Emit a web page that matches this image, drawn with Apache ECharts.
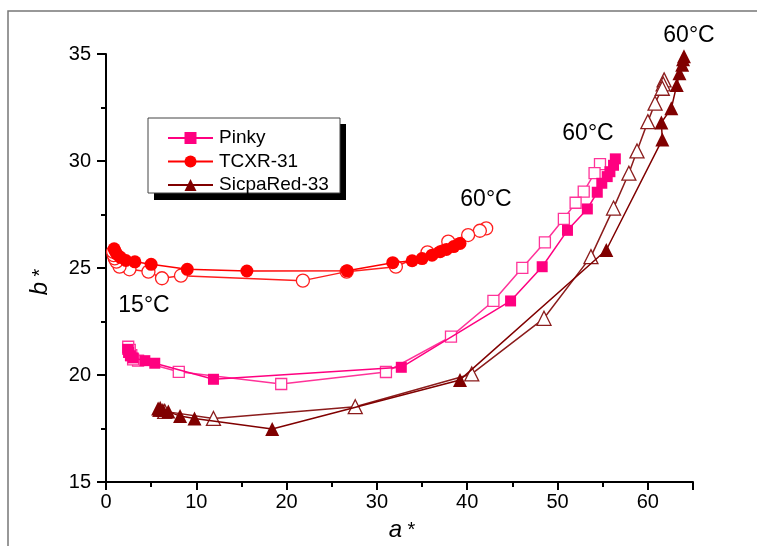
<!DOCTYPE html>
<html><head><meta charset="utf-8">
<script src="https://cdn.jsdelivr.net/npm/echarts@6/dist/echarts.min.js"></script>
<style>html,body{margin:0;padding:0;background:#fff}#c{width:757px;height:546px}</style>
</head><body><div id="c"></div>
<script>
const seriesNames = ['Pinky', 'TCXR-31', 'SicpaRed-33'];
const xTicks = [0, 10, 20, 30, 40, 50, 60];
const yTicks = [15, 20, 25, 30, 35];

const pinkyHeat = [[2.4,21.2],[2.5,21.05],[2.7,20.9],[3.0,20.8],[4.3,20.67],[5.4,20.55],[11.9,19.8],[32.7,20.36],[44.8,23.46],[48.3,25.06],[51.1,26.76],[53.3,27.76],[54.4,28.54],[54.9,28.96],[55.5,29.27],[55.8,29.5],[56.2,29.8],[56.4,30.1]];
const pinkyCool = [[54.7,29.85],[54.1,29.43],[52.9,28.57],[52.0,28.05],[50.7,27.3],[48.6,26.2],[46.1,25.01],[42.9,23.46],[38.2,21.79],[31.0,20.14],[19.4,19.58],[8.06,20.15],[3.55,20.67],[3.0,20.73],[2.8,20.93],[2.63,21.17],[2.46,21.32]];

const tcxrHeat = [[0.9,25.9],[1.0,25.8],[1.2,25.65],[1.6,25.5],[2.2,25.35],[3.2,25.29],[5.0,25.17],[9.0,24.94],[15.6,24.86],[26.7,24.87],[31.75,25.25],[33.9,25.34],[35.0,25.44],[36.1,25.6],[37.0,25.76],[37.7,25.87],[38.5,26.0],[39.2,26.15]];
const tcxrCool = [[42.1,26.85],[41.4,26.74],[40.1,26.54],[37.9,26.23],[35.6,25.73],[32.1,25.06],[26.65,24.83],[21.8,24.41],[8.3,24.64],[6.2,24.52],[4.7,24.83],[2.6,24.94],[1.5,25.06],[1.15,25.3],[0.96,25.45],[0.85,25.6],[0.78,25.76]];

const sicpaHeat = [[5.77,18.44],[6.0,18.4],[6.3,18.36],[6.9,18.29],[8.2,18.08],[9.8,17.97],[18.4,17.48],[39.2,19.77],[55.4,25.84],[61.6,31.0],[61.5,31.8],[62.6,32.46],[63.2,33.55],[63.5,34.1],[63.8,34.5],[63.9,34.75],[64.0,34.9]];
const sicpaCool = [[61.8,33.79],[61.7,33.6],[61.6,33.4],[60.8,32.7],[60.0,31.84],[58.8,30.47],[57.9,29.43],[56.2,27.8],[53.7,25.53],[48.5,22.65],[40.5,20.05],[27.6,18.52],[11.9,17.97],[6.5,18.3],[6.0,18.4]];

const annotations = [
  {text: '60°C', x: 486, y: 200},
  {text: '60°C', x: 588, y: 134},
  {text: '60°C', x: 689, y: 36},
  {text: '15°C', x: 144, y: 306}
];

const FONT = 'Arial, "Liberation Sans", sans-serif';
const cPink = '#ff0080', cPinkOpen = '#ff3399';
const cRed = '#ff0000', cRedOpen = '#ff2020';
const cDark = '#800000', cDarkOpen = '#8b1c1c';

function filled(name, data, color, symbol, size) {
  return {name, type: 'line', data, symbol, symbolSize: size, showSymbol: true,
    lineStyle: {color, width: 1.5}, itemStyle: {color}, z: 3, animation: false};
}
function open(name, data, color, symbol, size) {
  return {name, type: 'line', data, symbol, symbolSize: size, showSymbol: true,
    lineStyle: {color, width: 1.5}, itemStyle: {color: '#fff', borderColor: color, borderWidth: 1.3}, z: 2, animation: false};
}

const chart = echarts.init(document.getElementById('c'));
chart.setOption({
  animation: false,
  backgroundColor: '#fff',
  grid: {left: 106, right: 64, top: 54, bottom: 64, containLabel: false},
  xAxis: {
    type: 'value', min: 0, max: 65, interval: 10,
    axisLine: {show: true, onZero: false, lineStyle: {color: '#000', width: 2}},
    axisTick: {show: true, inside: false, length: 8, lineStyle: {color: '#000', width: 2}},
    minorTick: {show: true, splitNumber: 2, length: 5, lineStyle: {color: '#000', width: 2}},
    splitLine: {show: false},
    axisLabel: {color: '#000', fontSize: 20, fontFamily: FONT, margin: 10,
      formatter: v => xTicks.includes(v) ? String(v) : ''}
  },
  yAxis: {
    type: 'value', min: 15, max: 35, interval: 5,
    axisLine: {show: true, onZero: false, lineStyle: {color: '#000', width: 2}},
    axisTick: {show: true, inside: false, length: 9, lineStyle: {color: '#000', width: 2}},
    minorTick: {show: true, splitNumber: 2, length: 5, lineStyle: {color: '#000', width: 2}},
    splitLine: {show: false},
    axisLabel: {color: '#000', fontSize: 20, fontFamily: FONT, margin: 15,
      formatter: v => yTicks.includes(v) ? String(v) : ''}
  },
  legend: {
    data: seriesNames, orient: 'vertical', left: 167, top: 128.5, z: 30,
    itemWidth: 45, itemHeight: 15, itemGap: 4.5, padding: 0,
    textStyle: {color: '#000', fontSize: 19, lineHeight: 19, fontFamily: FONT, padding: [0, 0, 0, 1]}
  },
  graphic: [
    {type: 'rect', shape: {x: 8, y: 11, width: 900, height: 700}, style: {fill: 'none', stroke: '#777', lineWidth: 1.5}, z: -10, silent: true},
    {type: 'rect', shape: {x: 154, y: 124, width: 192, height: 76}, style: {fill: '#000'}, z: 10, silent: true},
    {type: 'rect', shape: {x: 148, y: 118, width: 192, height: 75}, style: {fill: '#fff', stroke: '#444', lineWidth: 1}, z: 11, silent: true},
    ...annotations.map(a => ({type: 'text', x: a.x, y: a.y, z: 20, silent: true,
      style: {text: a.text, fill: '#000', font: '23px ' + FONT, textAlign: 'center', textVerticalAlign: 'middle'}})),
    {type: 'text', x: 40, y: 282, rotation: Math.PI / 2, z: 20, silent: true,
      style: {text: '{i|b}{n| *}', textAlign: 'center', textVerticalAlign: 'middle',
        rich: {i: {font: 'italic 24px ' + FONT, fill: '#000'}, n: {font: '20px ' + FONT, fill: '#000'}}}},
    {type: 'text', x: 402, y: 530, z: 20, silent: true,
      style: {text: '{i|a}{n| *}', textAlign: 'center', textVerticalAlign: 'middle',
        rich: {i: {font: 'italic 24px ' + FONT, fill: '#000'}, n: {font: '20px ' + FONT, fill: '#000'}}}}
  ],
  series: [
    open('Pinky cooling', pinkyCool, cPinkOpen, 'rect', 11),
    open('TCXR-31 cooling', tcxrCool, cRedOpen, 'circle', 13),
    open('SicpaRed-33 cooling', sicpaCool, cDarkOpen, 'triangle', 14),
    filled('Pinky', pinkyHeat, cPink, 'rect', 11),
    filled('TCXR-31', tcxrHeat, cRed, 'circle', 13),
    filled('SicpaRed-33', sicpaHeat, cDark, 'triangle', 14)
  ]
});
</script></body></html>
